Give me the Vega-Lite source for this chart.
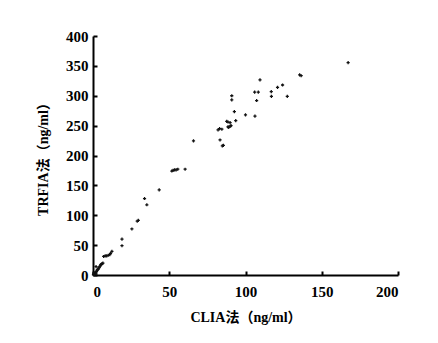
{
  "$schema": "https://vega.github.io/schema/vega-lite/v6.json",
  "autosize": {"type": "none"},
  "width": 305,
  "height": 239,
  "padding": {"left": 93, "top": 36, "right": 40, "bottom": 68},
  "background": "white",
  "data": {"values": [
    {"clia": 0.3, "trfia": 0.5}, {"clia": 0.6, "trfia": 1}, {"clia": 1, "trfia": 2}, {"clia": 1.2, "trfia": 3},
    {"clia": 1.5, "trfia": 4}, {"clia": 2, "trfia": 5}, {"clia": 2.3, "trfia": 6}, {"clia": 2.7, "trfia": 8},
    {"clia": 3, "trfia": 9}, {"clia": 3.4, "trfia": 10}, {"clia": 3.8, "trfia": 12}, {"clia": 4.2, "trfia": 13},
    {"clia": 4.6, "trfia": 15}, {"clia": 5, "trfia": 17}, {"clia": 5.5, "trfia": 18}, {"clia": 6, "trfia": 19},
    {"clia": 6.5, "trfia": 20}, {"clia": 2, "trfia": 14}, {"clia": 1, "trfia": 1}, {"clia": 2, "trfia": 2},
    {"clia": 0.5, "trfia": 3},
    {"clia": 7, "trfia": 31}, {"clia": 8, "trfia": 32}, {"clia": 9, "trfia": 32}, {"clia": 10, "trfia": 33},
    {"clia": 11, "trfia": 34}, {"clia": 11.5, "trfia": 36}, {"clia": 12.4, "trfia": 39.6},
    {"clia": 19, "trfia": 60}, {"clia": 19, "trfia": 49}, {"clia": 25.5, "trfia": 77}, {"clia": 29, "trfia": 90},
    {"clia": 29.7, "trfia": 91.5}, {"clia": 33.8, "trfia": 128}, {"clia": 35.3, "trfia": 117.5},
    {"clia": 43.4, "trfia": 142.6}, {"clia": 51.7, "trfia": 174}, {"clia": 52.5, "trfia": 175},
    {"clia": 53.5, "trfia": 176}, {"clia": 54.5, "trfia": 176}, {"clia": 55.6, "trfia": 177},
    {"clia": 60.4, "trfia": 177}, {"clia": 65.9, "trfia": 224.5},
    {"clia": 82, "trfia": 243}, {"clia": 83, "trfia": 245}, {"clia": 84.5, "trfia": 244}, {"clia": 83.3, "trfia": 226},
    {"clia": 84.8, "trfia": 216}, {"clia": 85.5, "trfia": 217}, {"clia": 87.7, "trfia": 257}, {"clia": 88.5, "trfia": 256},
    {"clia": 89.9, "trfia": 255}, {"clia": 88.5, "trfia": 248}, {"clia": 89, "trfia": 247}, {"clia": 90, "trfia": 249},
    {"clia": 90.5, "trfia": 250}, {"clia": 91, "trfia": 300}, {"clia": 91, "trfia": 293}, {"clia": 92.7, "trfia": 273.5},
    {"clia": 93.6, "trfia": 258.5}, {"clia": 100, "trfia": 268}, {"clia": 106.2, "trfia": 266}, {"clia": 106, "trfia": 306},
    {"clia": 108.4, "trfia": 306}, {"clia": 107.3, "trfia": 292}, {"clia": 109.5, "trfia": 326.5},
    {"clia": 116.9, "trfia": 307}, {"clia": 117, "trfia": 299}, {"clia": 121, "trfia": 314}, {"clia": 124.3, "trfia": 318},
    {"clia": 127.4, "trfia": 299}, {"clia": 135.5, "trfia": 335}, {"clia": 136.5, "trfia": 333.5},
    {"clia": 167.3, "trfia": 355.4}
  ]},
  "mark": {"type": "point", "shape": "cross", "filled": true, "color": "#111", "size": 10, "opacity": 1},
  "encoding": {
    "x": {"field": "clia", "type": "quantitative", "scale": {"domain": [0, 200], "nice": false, "zero": true},
      "axis": {"values": [0, 50, 100, 150, 200], "title": "CLIA法（ng/ml）", "grid": false}},
    "y": {"field": "trfia", "type": "quantitative", "scale": {"domain": [0, 400], "nice": false},
      "axis": {"values": [0, 50, 100, 150, 200, 250, 300, 350, 400], "title": "TRFIA法（ng/ml）", "grid": false}}
  },
  "config": {
    "view": {"stroke": null},
    "axis": {
      "domainColor": "#000", "domainWidth": 2, "tickColor": "#000", "tickWidth": 2, "tickSize": -4,
      "labelFont": "Liberation Serif, Noto Sans CJK SC", "labelFontSize": 15, "labelFontWeight": "bold", "labelColor": "#000",
      "titleFont": "Liberation Serif, Noto Sans CJK SC", "titleFontSize": 14, "titleFontWeight": "bold", "titleColor": "#000"
    },
    "axisX": {"labelPadding": 13, "titlePadding": 11},
    "axisY": {"labelPadding": 9, "titlePadding": 15}
  }
}
